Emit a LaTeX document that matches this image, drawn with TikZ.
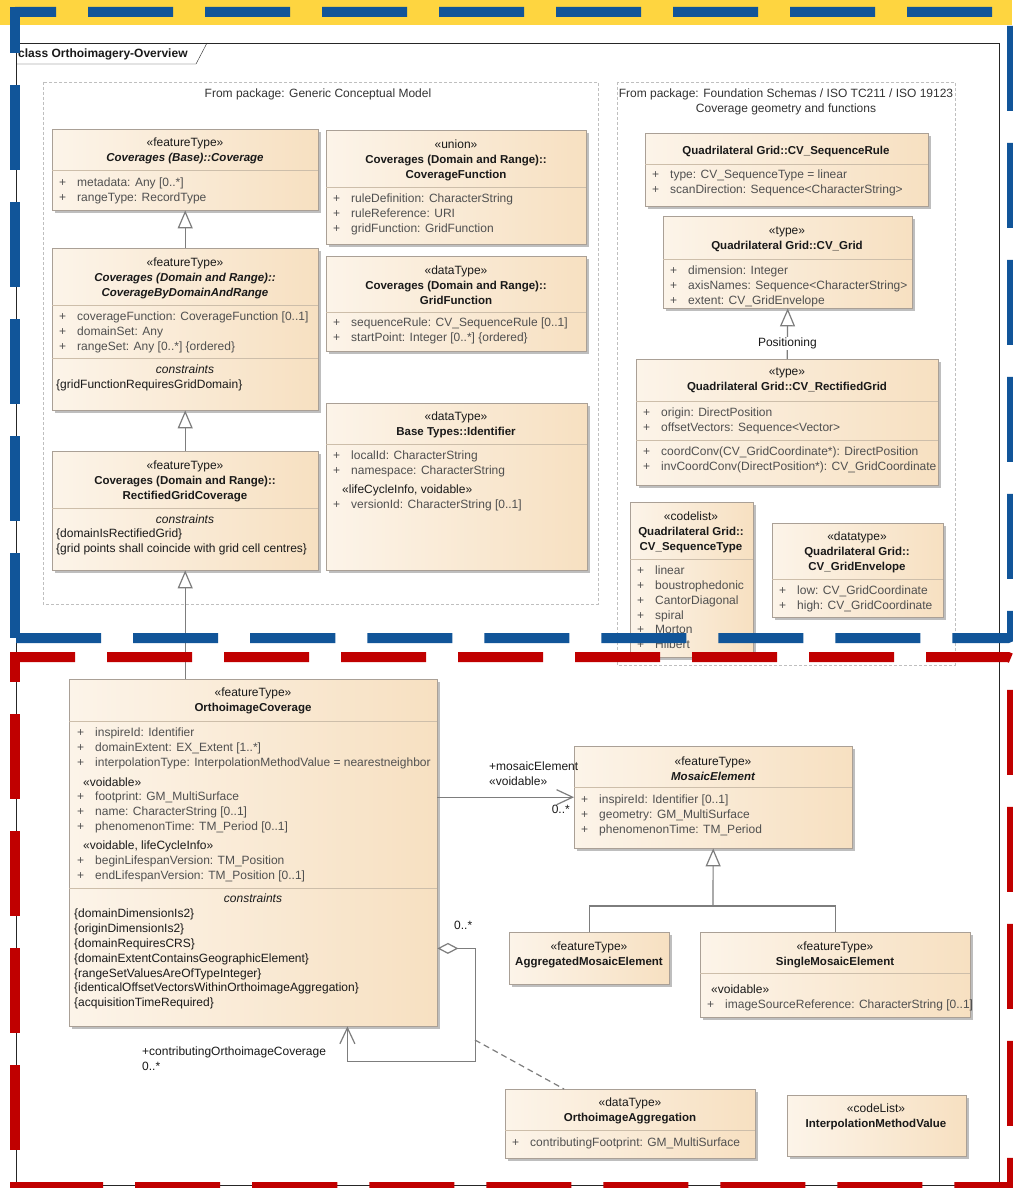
\documentclass[tikz,border=0pt]{standalone}
\usepackage{fontspec}
\setmainfont{Liberation Sans}
\usetikzlibrary{arrows.meta,shadows}

\definecolor{umlleft}{RGB}{252,244,233}
\definecolor{umlright}{RGB}{247,224,193}
\definecolor{umlborder}{RGB}{170,160,150}
\definecolor{umlsep}{RGB}{205,190,170}
\definecolor{umlshadow}{RGB}{190,190,190}
\definecolor{umltext}{RGB}{80,80,80}
\definecolor{umlhead}{RGB}{25,25,25}
\definecolor{umlline}{RGB}{125,125,125}
\definecolor{bandyellow}{RGB}{254,213,64}
\definecolor{frameblue}{RGB}{17,85,153}
\definecolor{framered}{RGB}{192,0,0}

\newcommand{\umlplus}{\makebox[18pt][l]{+}}
\newcommand{\cn}[1]{{\fontsize{11.5}{14.7}\selectfont\bfseries #1}}
\newcommand{\cna}[1]{{\fontsize{11.5}{14.7}\selectfont\bfseries\itshape #1}}

\begin{document}
\begin{tikzpicture}[x=1pt, y=-1pt,
        uclass/.style={draw=umlborder, left color=umlleft, right color=umlright, anchor=north west, inner sep=0pt,
            drop shadow={shadow xshift=3pt, shadow yshift=-3pt, fill=umlshadow, opacity=1}},
        chead/.style={anchor=north, inner sep=0pt, align=center, font=\fontsize{12}{14.7}\selectfont, text=umlhead},
        cattr/.style={anchor=north west, inner sep=0pt, align=left, font=\fontsize{12}{14.7}\selectfont, text=umltext},
        clist/.style={cattr, font=\fontsize{12}{14.8}\selectfont},
        lbl/.style={anchor=north west, inner sep=0pt, align=left, font=\fontsize{12}{14.7}\selectfont, text=umlhead},
        csep/.style={draw=umlsep},
        pkg/.style={draw=gray!50, dash pattern=on 3pt off 2pt},
        gen/.style={draw=umlline, line width=1.2pt, -{Triangle[length=18pt, width=15pt, fill=white]}},
        genline/.style={draw=umlline, line width=1.2pt},
        assoc/.style={draw=umlline, line width=1.2pt, -{Straight Barb[length=16pt, width=15pt]}},
        aggr/.style={draw=umlline, line width=1.2pt, {Diamond[length=21pt, width=11pt, fill=white]}-{Straight Barb[length=16pt, width=15pt]}},
        assoclink/.style={draw=umlline, line width=1.2pt, dash pattern=on 6pt off 4pt},
        frame/.style={line width=10pt, rounded corners=4pt, dash pattern=on 85pt off 32pt}
    ]
    \useasboundingbox (0,0) rectangle (1012,1188);
    \fill[white] (0,0) rectangle (1012,1188);
    \fill[bandyellow] (0,0) rectangle (1012,25);

    % Diagram frame
    \draw[black!85] (16,43) rectangle (999,1185);
    \draw[black!85] (16,64) -- (196,64) -- (207,43);
    \node[lbl, font=\fontsize{12}{14.7}\selectfont\bfseries, anchor=west] (title) at (18,54) {class Orthoimagery-Overview};

    % Packages
    \draw[pkg] (43,82) rectangle (598,604);
    \node[chead, text=black!80] (gcm) at (318,89) {From package: Generic Conceptual Model};
    \draw[pkg] (617,82) rectangle (955,665);
    \node[chead, text=black!80] (iso) at (786,89) {From package: Foundation Schemas / ISO TC211 / ISO 19123\\Coverage geometry and functions};

    % Classes: Generic Conceptual Model
    \node[uclass, minimum width=266pt, minimum height=81pt] (coverage) at (52,129) {};
    \node[chead] (coverage-h) at (185,138) {«featureType»\\\cna{Coverages (Base)::Coverage}};
    \draw[csep] (52,170) -- (318,170);
    \node[cattr] (coverage-a) at (59,178) {\umlplus metadata: Any [0..*]\\\umlplus rangeType: RecordType};

    \node[uclass, minimum width=266pt, minimum height=162pt] (cbdar) at (52,248) {};
    \node[chead] (cbdar-h) at (185,258) {«featureType»\\\cna{Coverages (Domain and Range)::}\\\cna{CoverageByDomainAndRange}};
    \draw[csep] (52,305) -- (318,305);
    \node[cattr] (cbdar-a) at (59,312) {\umlplus coverageFunction: CoverageFunction [0..1]\\\umlplus domainSet: Any\\\umlplus rangeSet: Any [0..*] \{ordered\}};
    \draw[csep] (52,358) -- (318,358);
    \node[chead, font=\fontsize{12}{14.7}\selectfont\itshape] (cbdar-c) at (185,365) {constraints};
    \node[cattr, text=umlhead] (cbdar-k) at (56,380) {\{gridFunctionRequiresGridDomain\}};

    \node[uclass, minimum width=266pt, minimum height=119pt] (rgc) at (52,451) {};
    \node[chead] (rgc-h) at (185,461) {«featureType»\\\cn{Coverages (Domain and Range)::}\\\cn{RectifiedGridCoverage}};
    \draw[csep] (52,508) -- (318,508);
    \node[chead, font=\fontsize{12}{14.7}\selectfont\itshape] (rgc-c) at (185,515) {constraints};
    \node[cattr, text=umlhead] (rgc-k) at (56,529) {\{domainIsRectifiedGrid\}\\\{grid points shall coincide with grid cell centres\}};

    \node[uclass, minimum width=260pt, minimum height=114pt] (covfun) at (326,130) {};
    \node[chead] (covfun-h) at (456,140) {«union»\\\cn{Coverages (Domain and Range)::}\\\cn{CoverageFunction}};
    \draw[csep] (326,187) -- (586,187);
    \node[cattr] (covfun-a) at (333,194) {\umlplus ruleDefinition: CharacterString\\\umlplus ruleReference: URI\\\umlplus gridFunction: GridFunction};

    \node[uclass, minimum width=260pt, minimum height=95pt] (gridfun) at (326,256) {};
    \node[chead] (gridfun-h) at (456,266) {«dataType»\\\cn{Coverages (Domain and Range)::}\\\cn{GridFunction}};
    \draw[csep] (326,312) -- (586,312);
    \node[cattr] (gridfun-a) at (333,318) {\umlplus sequenceRule: CV\_SequenceRule [0..1]\\\umlplus startPoint: Integer [0..*] \{ordered\}};

    \node[uclass, minimum width=261pt, minimum height=167pt] (ident) at (326,403) {};
    \node[chead] (ident-h) at (456,412) {«dataType»\\\cn{Base Types::Identifier}};
    \draw[csep] (326,444) -- (587,444);
    \node[cattr] (ident-a) at (333,451) {\umlplus localId: CharacterString\\\umlplus namespace: CharacterString};
    \node[cattr, text=umlhead] (ident-s) at (342,485) {«lifeCycleInfo, voidable»};
    \node[cattr] (ident-b) at (333,500) {\umlplus versionId: CharacterString [0..1]};

    % Classes: ISO 19123
    \node[uclass, minimum width=283pt, minimum height=73pt] (seqrule) at (645,133) {};
    \node[chead] (seqrule-h) at (786,146) {\cn{Quadrilateral Grid::CV\_SequenceRule}};
    \draw[csep] (645,164) -- (928,164);
    \node[cattr] (seqrule-a) at (652,170) {\umlplus type: CV\_SequenceType = linear\\\umlplus scanDirection: Sequence<CharacterString>};

    \node[uclass, minimum width=249pt, minimum height=92pt] (cvgrid) at (663,216) {};
    \node[chead] (cvgrid-h) at (787,227) {«type»\\\cn{Quadrilateral Grid::CV\_Grid}};
    \draw[csep] (663,259) -- (912,259);
    \node[cattr] (cvgrid-a) at (670,266) {\umlplus dimension: Integer\\\umlplus axisNames: Sequence<CharacterString>\\\umlplus extent: CV\_GridEnvelope};

    \node[uclass, minimum width=302pt, minimum height=126pt] (rgrid) at (636,359) {};
    \node[chead] (rgrid-h) at (787,368) {«type»\\\cn{Quadrilateral Grid::CV\_RectifiedGrid}};
    \draw[csep] (636,401) -- (938,401);
    \node[cattr] (rgrid-a) at (643,408) {\umlplus origin: DirectPosition\\\umlplus offsetVectors: Sequence<Vector>};
    \draw[csep] (636,440) -- (938,440);
    \node[cattr] (rgrid-o) at (643,447) {\umlplus coordConv(CV\_GridCoordinate*): DirectPosition\\\umlplus invCoordConv(DirectPosition*): CV\_GridCoordinate};

    \node[uclass, minimum width=123pt, minimum height=155pt] (seqtype) at (630,502) {};
    \node[chead] (seqtype-h) at (691,512) {«codelist»\\\cn{Quadrilateral Grid::}\\\cn{CV\_SequenceType}};
    \draw[csep] (630,559) -- (753,559);
    \node[cattr] (seqtype-a) at (637,566) {\umlplus linear\\\umlplus boustrophedonic\\\umlplus CantorDiagonal\\\umlplus spiral\\\umlplus Morton\\\umlplus Hilbert};

    \node[uclass, minimum width=171pt, minimum height=94pt] (envelope) at (772,523) {};
    \node[chead] (envelope-h) at (857,532) {«datatype»\\\cn{Quadrilateral Grid::}\\\cn{CV\_GridEnvelope}};
    \draw[csep] (772,579) -- (943,579);
    \node[cattr] (envelope-a) at (779,586) {\umlplus low: CV\_GridCoordinate\\\umlplus high: CV\_GridCoordinate};

    % Classes: Orthoimagery
    \node[uclass, minimum width=368pt, minimum height=347pt] (oic) at (69,679) {};
    \node[chead] (oic-h) at (253,688) {«featureType»\\\cn{OrthoimageCoverage}};
    \draw[csep] (69,721) -- (437,721);
    \node[cattr] (oic-a) at (77,728) {\umlplus inspireId: Identifier\\\umlplus domainExtent: EX\_Extent [1..*]\\\umlplus interpolationType: InterpolationMethodValue = nearestneighbor};
    \node[cattr, text=umlhead] (oic-s1) at (83,778) {«voidable»};
    \node[cattr] (oic-b) at (77,792) {\umlplus footprint: GM\_MultiSurface\\\umlplus name: CharacterString [0..1]\\\umlplus phenomenonTime: TM\_Period [0..1]};
    \node[cattr, text=umlhead] (oic-s2) at (83,841) {«voidable, lifeCycleInfo»};
    \node[cattr] (oic-c) at (77,856) {\umlplus beginLifespanVersion: TM\_Position\\\umlplus endLifespanVersion: TM\_Position [0..1]};
    \draw[csep] (69,888) -- (437,888);
    \node[chead, font=\fontsize{12}{14.7}\selectfont\itshape] (oic-k) at (253,894) {constraints};
    \node[clist, text=umlhead] (oic-l) at (74,909) {\{domainDimensionIs2\}\\\{originDimensionIs2\}\\\{domainRequiresCRS\}\\\{domainExtentContainsGeographicElement\}\\\{rangeSetValuesAreOfTypeInteger\}\\\{identicalOffsetVectorsWithinOrthoimageAggregation\}\\\{acquisitionTimeRequired\}};

    \node[uclass, minimum width=278pt, minimum height=102pt] (mosaic) at (574,746) {};
    \node[chead] (mosaic-h) at (713,757) {«featureType»\\\cna{MosaicElement}};
    \draw[csep] (574,787) -- (852,787);
    \node[cattr] (mosaic-a) at (581,795) {\umlplus inspireId: Identifier [0..1]\\\umlplus geometry: GM\_MultiSurface\\\umlplus phenomenonTime: TM\_Period};

    \node[uclass, minimum width=160pt, minimum height=52pt] (aggme) at (509,932) {};
    \node[chead] (aggme-h) at (589,942) {«featureType»\\\cn{AggregatedMosaicElement}};

    \node[uclass, minimum width=270pt, minimum height=85pt] (single) at (700,932) {};
    \node[chead] (single-h) at (835,942) {«featureType»\\\cn{SingleMosaicElement}};
    \draw[csep] (700,973) -- (970,973);
    \node[cattr, text=umlhead] (single-s) at (711,985) {«voidable»};
    \node[cattr] (single-a) at (707,1000) {\umlplus imageSourceReference: CharacterString [0..1]};

    \node[uclass, minimum width=250pt, minimum height=69pt] (oagg) at (505,1089) {};
    \node[chead] (oagg-h) at (630,1098) {«dataType»\\\cn{OrthoimageAggregation}};
    \draw[csep] (505,1130) -- (755,1130);
    \node[cattr] (oagg-a) at (512,1138) {\umlplus contributingFootprint: GM\_MultiSurface};

    \node[uclass, minimum width=179pt, minimum height=61pt] (interp) at (787,1095) {};
    \node[chead] (interp-h) at (876,1104) {«codeList»\\\cn{InterpolationMethodValue}};

    % Paths: generalizations
    \draw[gen] (cbdar.north) -- (coverage.south);
    \draw[gen] (rgc.north) -- (cbdar.south);
    \draw[gen] (rgc.south |- oic.north) -- (rgc.south);
    \draw[gen] (rgrid.north) -- (cvgrid.south) node[pos=0.3, fill=white, inner sep=1pt, font=\fontsize{12}{14}\selectfont, text=umlhead] (positioning) {Positioning};
    \coordinate (genjoin) at (713,906);
    \draw[gen] (genjoin) -- (mosaic.south);
    \draw[genline] (aggme.north) |- (genjoin) -| (single.north);

    % Paths: associations
    \draw[assoc] (oic.east |- mosaic.west) -- (mosaic.west);
    \node[lbl] (mosaic-role) at (489,762) {+mosaicElement\\«voidable»};
    \node[lbl, anchor=north east] (mosaic-mult) at (570,805) {0..*};
    \draw[aggr] ([yshift=78pt]oic.south east) -- ++(38,0) -- ++(0,113) -| ([xshift=-90pt]oic.south east);
    \node[lbl] (agg-mult) at (454,921) {0..*};
    \node[lbl] (contrib-role) at (142,1047) {+contributingOrthoimageCoverage\\0..*};
    \coordinate (assocpt) at (475,1040);
    \draw[assoclink] (assocpt) -- ([xshift=59pt]oagg.north west);

    % Highlight frames (three sides, then the left side)
    \draw[frame, frameblue, dash phase=44pt] (15,12) -- (1012,12) -- (1012,638) -- (15,638);
    \draw[frame, frameblue, dash phase=39pt] (15,7) -- (15,643);
    \draw[frame, framered, dash phase=25pt] (15,657) -- (1012,657) -- (1012,1187) -- (15,1187);
    \draw[frame, framered, dash phase=55pt] (15,652) -- (15,1192);
\end{tikzpicture}
\end{document}
